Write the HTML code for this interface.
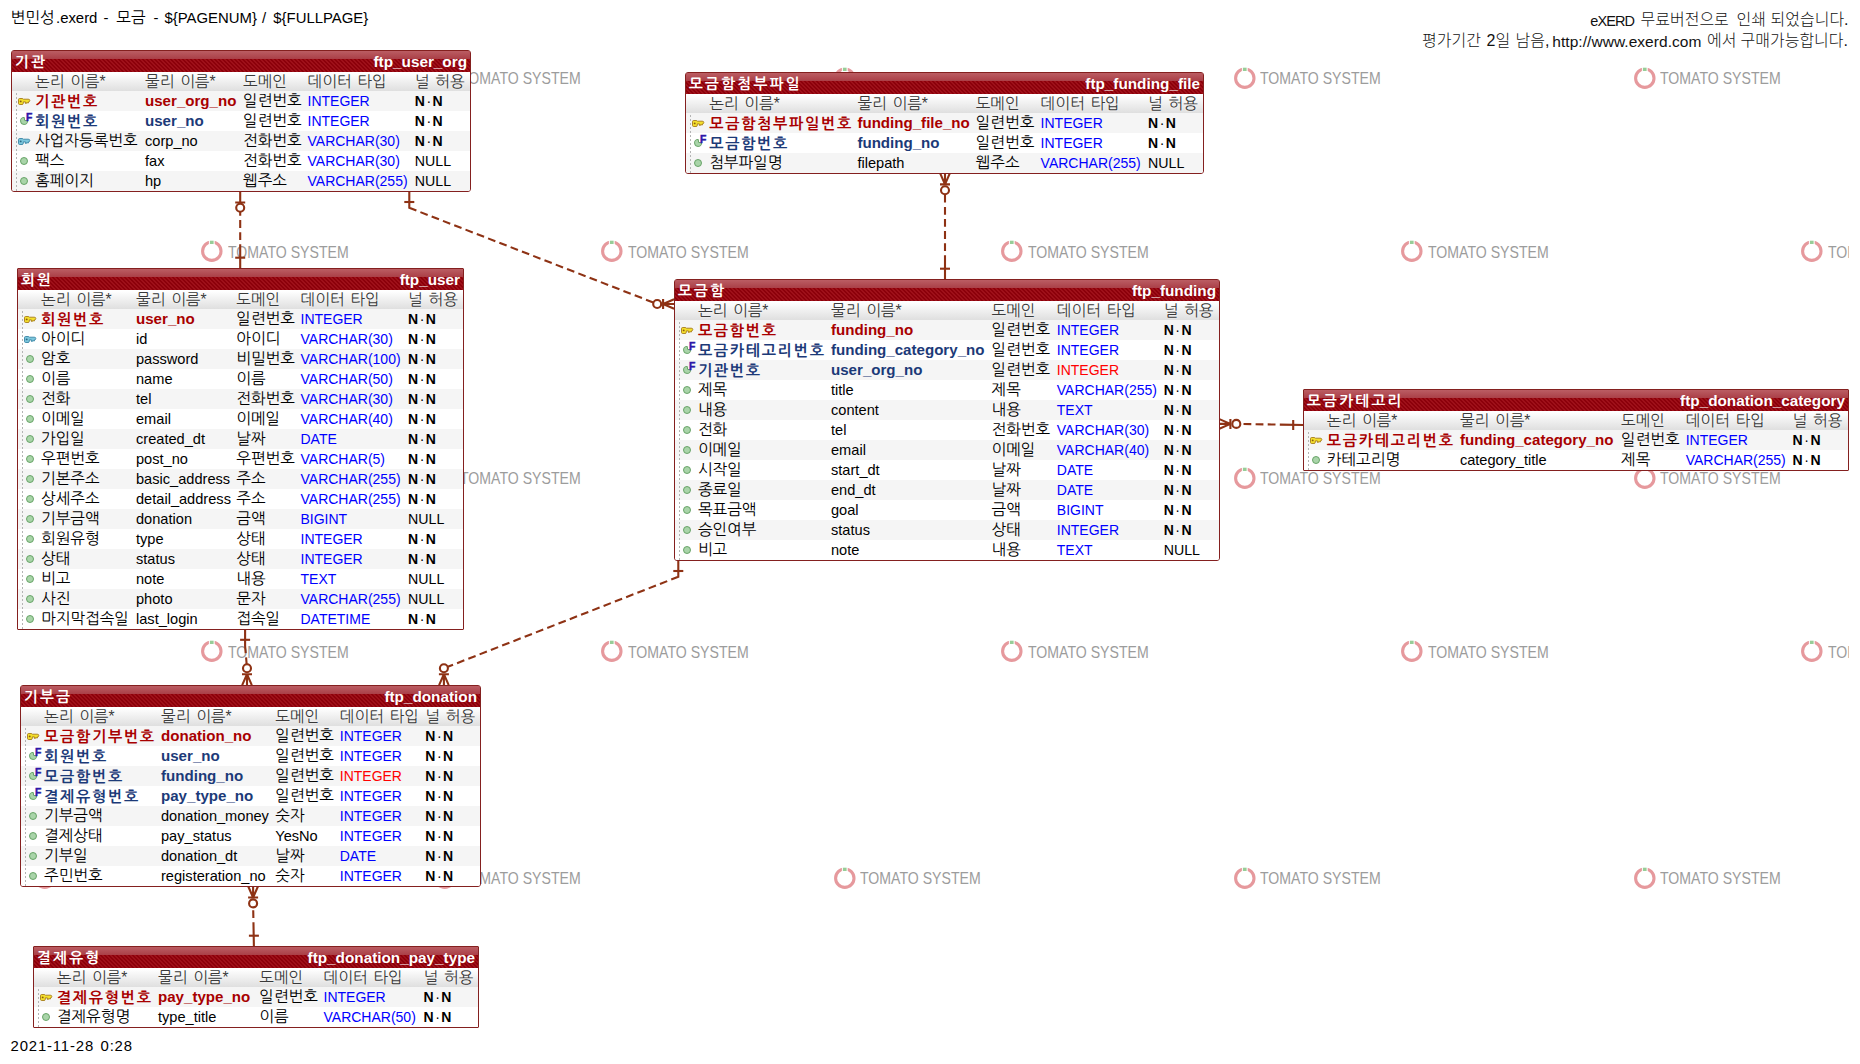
<!DOCTYPE html>
<html lang="ko"><head><meta charset="utf-8"><title>변민성.exerd - 모금</title>
<style>
html,body{margin:0;padding:0;background:#fff}
body{width:1860px;height:1064px;position:relative;overflow:hidden;font-family:"Liberation Sans","NanumGothic",sans-serif;color:#000}
.k{font-family:"Liberation Sans","NanumGothic",sans-serif;font-size:15.600px;word-spacing:1.500px}
.l{font-family:"Liberation Sans","NanumGothic",sans-serif;font-size:14.600px}
.w{position:absolute;white-space:nowrap;line-height:20px}
.nw{line-height:22px;color:#111}
.kn{font-family:"Liberation Sans","Noto Sans CJK KR",sans-serif;font-weight:300;font-size:16px}
.en{font-family:"Liberation Sans",sans-serif;font-size:14.500px;letter-spacing:-.9px;padding-top:1px}
.en.u{letter-spacing:.05px;font-size:15.500px}
.dd{letter-spacing:.85px}
.h.l{font-size:14.900px}
.wl{position:absolute;left:0;top:0;width:1849px;height:1035px;overflow:hidden}
.wm{position:absolute;width:150px;height:24px}
.wm svg{position:absolute;left:0;top:0}
.wb svg{left:-.4px;top:-.6px}
.wm span{position:absolute;left:26px;top:2px;line-height:22px;font-size:16.600px;color:#9c9c9c;white-space:nowrap;transform:scaleX(.85);transform-origin:0 50%}
.t{position:absolute;box-sizing:border-box;border:1px solid #84201f;border-radius:3px;background:#fff;overflow:hidden}
.t.sq{border-radius:1px}
.tt{position:relative;height:21px;background:
 linear-gradient(#bb5d63,#aa3f47) 0 0/100% 8px no-repeat,
 repeating-linear-gradient(45deg,#9e1019 0,#9e1019 1.415px,#8c000a 1.415px,#8c000a 2.830px);color:#fff;font-weight:bold}
.tt .n{position:absolute;left:3px;top:1px;line-height:20px;white-space:nowrap;font-size:14.800px;letter-spacing:2.200px}
.tt .p{position:absolute;right:3px;top:1px;line-height:20px;white-space:nowrap;font-size:15.300px}
.th{position:relative;height:19px;background:linear-gradient(#ffffff 0,#ffffff 1px,#f3f3f3 40%,#dfdfdf 100%);color:#3a3a3a;text-shadow:0 0 2px #fff}
.r{position:relative;height:20px}
.r.o{background:#f5f5f5}
.r.e{background:#fff}
.c{position:absolute;top:0;line-height:20px;white-space:nowrap}
.th .c{line-height:19px}
.pk{color:#a80000;font-weight:bold}
.fk{color:#1c3a78;font-weight:bold}
.dt{color:#0000ff;font-size:14px}
.dt.red{color:#ff0000}
.nn{font-weight:bold;font-size:14px}
.nl{font-size:14.200px}
.ic{position:absolute;line-height:0}
.ic svg{display:block}
.dl{position:absolute;left:4px;top:42px;bottom:0;width:1px;background:repeating-linear-gradient(#b4b4b4 0,#b4b4b4 2px,transparent 2px,transparent 4px)}
.b.l{font-size:15.100px}
.b.k{font-size:15.200px;letter-spacing:1.700px;margin-top:.5px}
</style></head><body>
<div class="wl">
<div class="wm" style="left:34px;top:66px"><svg width="24" height="24" viewBox="0 0 24 24"><circle cx="10.800" cy="12.200" r="9.200" fill="none" stroke="#e6999d" stroke-width="3.100"/><rect x="7.900" y="0" width="5.800" height="6" fill="#fff"/><rect x="8.900" y="1.700" width="3.700" height="3.300" fill="#97cd97"/></svg><span>TOMATO SYSTEM</span></div>
<div class="wm" style="left:434px;top:66px"><svg width="24" height="24" viewBox="0 0 24 24"><circle cx="10.800" cy="12.200" r="9.200" fill="none" stroke="#e6999d" stroke-width="3.100"/><rect x="7.900" y="0" width="5.800" height="6" fill="#fff"/><rect x="8.900" y="1.700" width="3.700" height="3.300" fill="#97cd97"/></svg><span>TOMATO SYSTEM</span></div>
<div class="wm" style="left:834px;top:66px"><svg width="24" height="24" viewBox="0 0 24 24"><circle cx="10.800" cy="12.200" r="9.200" fill="none" stroke="#e6999d" stroke-width="3.100"/><rect x="7.900" y="0" width="5.800" height="6" fill="#fff"/><rect x="8.900" y="1.700" width="3.700" height="3.300" fill="#97cd97"/></svg><span>TOMATO SYSTEM</span></div>
<div class="wm" style="left:1234px;top:66px"><svg width="24" height="24" viewBox="0 0 24 24"><circle cx="10.800" cy="12.200" r="9.200" fill="none" stroke="#e6999d" stroke-width="3.100"/><rect x="7.900" y="0" width="5.800" height="6" fill="#fff"/><rect x="8.900" y="1.700" width="3.700" height="3.300" fill="#97cd97"/></svg><span>TOMATO SYSTEM</span></div>
<div class="wm" style="left:1634px;top:66px"><svg width="24" height="24" viewBox="0 0 24 24"><circle cx="10.800" cy="12.200" r="9.200" fill="none" stroke="#e6999d" stroke-width="3.100"/><rect x="7.900" y="0" width="5.800" height="6" fill="#fff"/><rect x="8.900" y="1.700" width="3.700" height="3.300" fill="#97cd97"/></svg><span>TOMATO SYSTEM</span></div>
<div class="wm" style="left:34px;top:466px"><svg width="24" height="24" viewBox="0 0 24 24"><circle cx="10.800" cy="12.200" r="9.200" fill="none" stroke="#e6999d" stroke-width="3.100"/><rect x="7.900" y="0" width="5.800" height="6" fill="#fff"/><rect x="8.900" y="1.700" width="3.700" height="3.300" fill="#97cd97"/></svg><span>TOMATO SYSTEM</span></div>
<div class="wm" style="left:434px;top:466px"><svg width="24" height="24" viewBox="0 0 24 24"><circle cx="10.800" cy="12.200" r="9.200" fill="none" stroke="#e6999d" stroke-width="3.100"/><rect x="7.900" y="0" width="5.800" height="6" fill="#fff"/><rect x="8.900" y="1.700" width="3.700" height="3.300" fill="#97cd97"/></svg><span>TOMATO SYSTEM</span></div>
<div class="wm" style="left:834px;top:466px"><svg width="24" height="24" viewBox="0 0 24 24"><circle cx="10.800" cy="12.200" r="9.200" fill="none" stroke="#e6999d" stroke-width="3.100"/><rect x="7.900" y="0" width="5.800" height="6" fill="#fff"/><rect x="8.900" y="1.700" width="3.700" height="3.300" fill="#97cd97"/></svg><span>TOMATO SYSTEM</span></div>
<div class="wm" style="left:1234px;top:466px"><svg width="24" height="24" viewBox="0 0 24 24"><circle cx="10.800" cy="12.200" r="9.200" fill="none" stroke="#e6999d" stroke-width="3.100"/><rect x="7.900" y="0" width="5.800" height="6" fill="#fff"/><rect x="8.900" y="1.700" width="3.700" height="3.300" fill="#97cd97"/></svg><span>TOMATO SYSTEM</span></div>
<div class="wm" style="left:1634px;top:466px"><svg width="24" height="24" viewBox="0 0 24 24"><circle cx="10.800" cy="12.200" r="9.200" fill="none" stroke="#e6999d" stroke-width="3.100"/><rect x="7.900" y="0" width="5.800" height="6" fill="#fff"/><rect x="8.900" y="1.700" width="3.700" height="3.300" fill="#97cd97"/></svg><span>TOMATO SYSTEM</span></div>
<div class="wm" style="left:34px;top:866px"><svg width="24" height="24" viewBox="0 0 24 24"><circle cx="10.800" cy="12.200" r="9.200" fill="none" stroke="#e6999d" stroke-width="3.100"/><rect x="7.900" y="0" width="5.800" height="6" fill="#fff"/><rect x="8.900" y="1.700" width="3.700" height="3.300" fill="#97cd97"/></svg><span>TOMATO SYSTEM</span></div>
<div class="wm" style="left:434px;top:866px"><svg width="24" height="24" viewBox="0 0 24 24"><circle cx="10.800" cy="12.200" r="9.200" fill="none" stroke="#e6999d" stroke-width="3.100"/><rect x="7.900" y="0" width="5.800" height="6" fill="#fff"/><rect x="8.900" y="1.700" width="3.700" height="3.300" fill="#97cd97"/></svg><span>TOMATO SYSTEM</span></div>
<div class="wm" style="left:834px;top:866px"><svg width="24" height="24" viewBox="0 0 24 24"><circle cx="10.800" cy="12.200" r="9.200" fill="none" stroke="#e6999d" stroke-width="3.100"/><rect x="7.900" y="0" width="5.800" height="6" fill="#fff"/><rect x="8.900" y="1.700" width="3.700" height="3.300" fill="#97cd97"/></svg><span>TOMATO SYSTEM</span></div>
<div class="wm" style="left:1234px;top:866px"><svg width="24" height="24" viewBox="0 0 24 24"><circle cx="10.800" cy="12.200" r="9.200" fill="none" stroke="#e6999d" stroke-width="3.100"/><rect x="7.900" y="0" width="5.800" height="6" fill="#fff"/><rect x="8.900" y="1.700" width="3.700" height="3.300" fill="#97cd97"/></svg><span>TOMATO SYSTEM</span></div>
<div class="wm" style="left:1634px;top:866px"><svg width="24" height="24" viewBox="0 0 24 24"><circle cx="10.800" cy="12.200" r="9.200" fill="none" stroke="#e6999d" stroke-width="3.100"/><rect x="7.900" y="0" width="5.800" height="6" fill="#fff"/><rect x="8.900" y="1.700" width="3.700" height="3.300" fill="#97cd97"/></svg><span>TOMATO SYSTEM</span></div>
<div class="wm wb" style="left:201.6px;top:239.5px"><svg width="24" height="24" viewBox="0 0 24 24"><circle cx="10.800" cy="12.200" r="9.200" fill="none" stroke="#e6999d" stroke-width="3.100"/><rect x="7.900" y="0" width="5.800" height="6" fill="#fff"/><rect x="8.900" y="1.700" width="3.700" height="3.300" fill="#97cd97"/></svg><span>TOMATO SYSTEM</span></div>
<div class="wm wb" style="left:601.6px;top:239.5px"><svg width="24" height="24" viewBox="0 0 24 24"><circle cx="10.800" cy="12.200" r="9.200" fill="none" stroke="#e6999d" stroke-width="3.100"/><rect x="7.900" y="0" width="5.800" height="6" fill="#fff"/><rect x="8.900" y="1.700" width="3.700" height="3.300" fill="#97cd97"/></svg><span>TOMATO SYSTEM</span></div>
<div class="wm wb" style="left:1001.6px;top:239.5px"><svg width="24" height="24" viewBox="0 0 24 24"><circle cx="10.800" cy="12.200" r="9.200" fill="none" stroke="#e6999d" stroke-width="3.100"/><rect x="7.900" y="0" width="5.800" height="6" fill="#fff"/><rect x="8.900" y="1.700" width="3.700" height="3.300" fill="#97cd97"/></svg><span>TOMATO SYSTEM</span></div>
<div class="wm wb" style="left:1401.6px;top:239.5px"><svg width="24" height="24" viewBox="0 0 24 24"><circle cx="10.800" cy="12.200" r="9.200" fill="none" stroke="#e6999d" stroke-width="3.100"/><rect x="7.900" y="0" width="5.800" height="6" fill="#fff"/><rect x="8.900" y="1.700" width="3.700" height="3.300" fill="#97cd97"/></svg><span>TOMATO SYSTEM</span></div>
<div class="wm wb" style="left:1801.6px;top:239.5px"><svg width="24" height="24" viewBox="0 0 24 24"><circle cx="10.800" cy="12.200" r="9.200" fill="none" stroke="#e6999d" stroke-width="3.100"/><rect x="7.900" y="0" width="5.800" height="6" fill="#fff"/><rect x="8.900" y="1.700" width="3.700" height="3.300" fill="#97cd97"/></svg><span>TOMATO SYSTEM</span></div>
<div class="wm wb" style="left:201.6px;top:639.5px"><svg width="24" height="24" viewBox="0 0 24 24"><circle cx="10.800" cy="12.200" r="9.200" fill="none" stroke="#e6999d" stroke-width="3.100"/><rect x="7.900" y="0" width="5.800" height="6" fill="#fff"/><rect x="8.900" y="1.700" width="3.700" height="3.300" fill="#97cd97"/></svg><span>TOMATO SYSTEM</span></div>
<div class="wm wb" style="left:601.6px;top:639.5px"><svg width="24" height="24" viewBox="0 0 24 24"><circle cx="10.800" cy="12.200" r="9.200" fill="none" stroke="#e6999d" stroke-width="3.100"/><rect x="7.900" y="0" width="5.800" height="6" fill="#fff"/><rect x="8.900" y="1.700" width="3.700" height="3.300" fill="#97cd97"/></svg><span>TOMATO SYSTEM</span></div>
<div class="wm wb" style="left:1001.6px;top:639.5px"><svg width="24" height="24" viewBox="0 0 24 24"><circle cx="10.800" cy="12.200" r="9.200" fill="none" stroke="#e6999d" stroke-width="3.100"/><rect x="7.900" y="0" width="5.800" height="6" fill="#fff"/><rect x="8.900" y="1.700" width="3.700" height="3.300" fill="#97cd97"/></svg><span>TOMATO SYSTEM</span></div>
<div class="wm wb" style="left:1401.6px;top:639.5px"><svg width="24" height="24" viewBox="0 0 24 24"><circle cx="10.800" cy="12.200" r="9.200" fill="none" stroke="#e6999d" stroke-width="3.100"/><rect x="7.900" y="0" width="5.800" height="6" fill="#fff"/><rect x="8.900" y="1.700" width="3.700" height="3.300" fill="#97cd97"/></svg><span>TOMATO SYSTEM</span></div>
<div class="wm wb" style="left:1801.6px;top:639.5px"><svg width="24" height="24" viewBox="0 0 24 24"><circle cx="10.800" cy="12.200" r="9.200" fill="none" stroke="#e6999d" stroke-width="3.100"/><rect x="7.900" y="0" width="5.800" height="6" fill="#fff"/><rect x="8.900" y="1.700" width="3.700" height="3.300" fill="#97cd97"/></svg><span>TOMATO SYSTEM</span></div>
</div>
<div class="hd"><span class="w h k" style="left:10.5px;top:8px">변민성</span><span class="w h l" style="left:56px;top:8px">.exerd</span><span class="w h l" style="left:103.5px;top:8px">-</span><span class="w h k" style="left:116.3px;top:8px">모금</span><span class="w h l" style="left:153.5px;top:8px">-</span><span class="w h l" style="left:164.5px;top:8px">${PAGENUM}</span><span class="w h l" style="left:262px;top:8px">/</span><span class="w h l" style="left:273.3px;top:8px">${FULLPAGE}</span>
</div><div class="nt"><span class="w nw en" style="left:1590.3px;top:9px">eXERD</span><span class="w nw kn" style="left:1640.5px;top:9px">무료버전으로</span><span class="w nw kn" style="left:1736.5px;top:9px">인쇄</span><span class="w nw kn" style="left:1770.5px;top:9px">되었습니다.</span>
<span class="w nw kn" style="left:1422px;top:30px">평가기간</span><span class="w nw kn" style="left:1486.5px;top:30px">2일</span><span class="w nw kn" style="left:1515.5px;top:30px">남음,</span><span class="w nw en u" style="left:1552.3px;top:30px">http://www.exerd.com</span><span class="w nw kn" style="left:1707px;top:30px">에서</span><span class="w nw kn" style="left:1740.5px;top:30px">구매가능합니다.</span>
</div><div class="ft"><span class="w h l dd" style="left:10.5px;top:1035.5px">2021-11-28</span><span class="w h l dd" style="left:100.5px;top:1035.5px">0:28</span>
</div>
<svg style="position:absolute;left:0;top:0" width="1860" height="1064" viewBox="0 0 1860 1064" fill="none" stroke="#8e3214" stroke-width="2.1" stroke-linecap="butt">
<path d="M240.2 268.5L240.2 207.7" stroke-dasharray="24.2 4.3 7.8 4.3 7.8 4.3 7.8 4.3 7.8 4.3 7.8 4.3 7.8 4.3 7.8 4.3 7.8 4.3 7.8 4.3 7.8 4.3 7.8 4.3 7.8 4.3 7.8 4.3 7.8 4.3 7.8 4.3 7.8 4.3 7.8 4.3 7.8 4.3 7.8 4.3 7.8 4.3 7.8 4.3 7.8 4.3 7.8 4.3 7.8 4.3"/><path d="M235.2 257.7L245.2 257.7"/><path d="M240.2 191.5L240.2 202.5M245.2 202.5L235.2 202.5"/><circle cx="240.2" cy="207.7" r="4" fill="#fff"/>
<path d="M245.1 629L245.1 646L247 668.3" stroke-dasharray="24.2 4.3 7.8 4.3 7.8 4.3 7.8 4.3 7.8 4.3 7.8 4.3 7.8 4.3 7.8 4.3 7.8 4.3 7.8 4.3 7.8 4.3 7.8 4.3 7.8 4.3 7.8 4.3 7.8 4.3 7.8 4.3 7.8 4.3 7.8 4.3 7.8 4.3 7.8 4.3 7.8 4.3 7.8 4.3 7.8 4.3 7.8 4.3 7.8 4.3"/><path d="M250.1 639.8L240.1 639.8"/><path d="M242.2 685.2L247 674.2M247 685.2L247 674.2M251.8 685.2L247 674.2M242 674.2L252 674.2"/><circle cx="247" cy="668.3" r="4" fill="#fff"/>
<path d="M253.9 946.5L253.1 903.4" stroke-dasharray="24.2 4.3 7.8 4.3 7.8 4.3 7.8 4.3 7.8 4.3 7.8 4.3 7.8 4.3 7.8 4.3 7.8 4.3 7.8 4.3 7.8 4.3 7.8 4.3 7.8 4.3 7.8 4.3 7.8 4.3 7.8 4.3 7.8 4.3 7.8 4.3 7.8 4.3 7.8 4.3 7.8 4.3 7.8 4.3 7.8 4.3 7.8 4.3 7.8 4.3"/><path d="M248.9 935.7L258.9 935.7"/><path d="M257.9 886.5L253.1 897.5M253.1 886.5L253.1 897.5M248.3 886.5L253.1 897.5M258.1 897.5L248.1 897.5"/><circle cx="253.1" cy="903.4" r="4" fill="#fff"/>
<path d="M945 279.5L945 190.3" stroke-dasharray="24.2 4.3 7.8 4.3 7.8 4.3 7.8 4.3 7.8 4.3 7.8 4.3 7.8 4.3 7.8 4.3 7.8 4.3 7.8 4.3 7.8 4.3 7.8 4.3 7.8 4.3 7.8 4.3 7.8 4.3 7.8 4.3 7.8 4.3 7.8 4.3 7.8 4.3 7.8 4.3 7.8 4.3 7.8 4.3 7.8 4.3 7.8 4.3 7.8 4.3"/><path d="M940 268.7L950 268.7"/><path d="M949.8 173.4L945 184.4M945 173.4L945 184.4M940.2 173.4L945 184.4M950 184.4L940 184.4"/><circle cx="945" cy="190.3" r="4" fill="#fff"/>
<path d="M1304 425L1236.3 423.9" stroke-dasharray="24.2 4.3 7.8 4.3 7.8 4.3 7.8 4.3 7.8 4.3 7.8 4.3 7.8 4.3 7.8 4.3 7.8 4.3 7.8 4.3 7.8 4.3 7.8 4.3 7.8 4.3 7.8 4.3 7.8 4.3 7.8 4.3 7.8 4.3 7.8 4.3 7.8 4.3 7.8 4.3 7.8 4.3 7.8 4.3 7.8 4.3 7.8 4.3 7.8 4.3"/><path d="M1293.2 430L1293.2 420"/><path d="M1219.4 419.1L1230.4 423.9M1219.4 423.9L1230.4 423.9M1219.4 428.7L1230.4 423.9M1230.4 418.9L1230.4 428.9"/><circle cx="1236.3" cy="423.9" r="4" fill="#fff"/>
<path d="M409.3 191.2L409.3 207.8L657.2 304" stroke-dasharray="24.2 4.3 7.8 4.3 7.8 4.3 7.8 4.3 7.8 4.3 7.8 4.3 7.8 4.3 7.8 4.3 7.8 4.3 7.8 4.3 7.8 4.3 7.8 4.3 7.8 4.3 7.8 4.3 7.8 4.3 7.8 4.3 7.8 4.3 7.8 4.3 7.8 4.3 7.8 4.3 7.8 4.3 7.8 4.3 7.8 4.3 7.8 4.3 7.8 4.3"/><path d="M414.3 202L404.3 202"/><path d="M674.1 308.8L663.1 304M674.1 304L663.1 304M674.1 299.2L663.1 304M663.1 309L663.1 299"/><circle cx="657.2" cy="304" r="4" fill="#fff"/>
<path d="M678.3 560.2L678.3 576.8L443.9 668.3" stroke-dasharray="24.2 4.3 7.8 4.3 7.8 4.3 7.8 4.3 7.8 4.3 7.8 4.3 7.8 4.3 7.8 4.3 7.8 4.3 7.8 4.3 7.8 4.3 7.8 4.3 7.8 4.3 7.8 4.3 7.8 4.3 7.8 4.3 7.8 4.3 7.8 4.3 7.8 4.3 7.8 4.3 7.8 4.3 7.8 4.3 7.8 4.3 7.8 4.3 7.8 4.3"/><path d="M683.3 571L673.3 571"/><path d="M439.1 685.2L443.9 674.2M443.9 685.2L443.9 674.2M448.7 685.2L443.9 674.2M438.9 674.2L448.9 674.2"/><circle cx="443.9" cy="668.3" r="4" fill="#fff"/>
</svg>
<div class="t" style="left:11px;top:50px;width:460px;height:142px">
<div class="tt"><span class="n k">기관</span><span class="p l">ftp_user_org</span></div>
<div class="th"><span class="c k" style="left:23.00px">논리 이름*</span><span class="c k" style="left:133.00px">물리 이름*</span><span class="c k" style="left:231.00px">도메인</span><span class="c k" style="left:295.50px">데이터 타입</span><span class="c k" style="left:402.75px">널 허용</span></div>
<div class="r o"><span class="ic" style="left:5.7px;top:6.5px"><svg width="13" height="7" viewBox="0 0 13 7"><path d="M1.700 .5H4Q5 .5 5.300 1.200H10.200Q11.800 1.200 11.800 2.500 11.800 3.900 10.400 3.900V5H9.400L8.900 4.400 8.400 5.400H7.400V3.900H5.300V5.300Q5.300 6.500 4 6.500H1.700Q.5 6.500 .5 5.300V1.700Q.5 .5 1.700 .5Z" fill="#f3df2c" stroke="#a67c1a" stroke-width=".9"/><circle cx="2.700" cy="3.400" r=".95" fill="#8a5a10"/></svg></span><span class="c k pk b" style="left:23.00px">기관번호</span><span class="c l pk b" style="left:133.00px">user_org_no</span><span class="c k" style="left:231.00px">일련번호</span><span class="c l dt" style="left:295.50px">INTEGER</span><span class="c l nn" style="left:402.75px">N<span style="font-weight:normal;padding:0 1.500px">·</span>N</span></div>
<div class="r e"><span class="ic" style="left:7px;top:0px"><svg width="14" height="14" viewBox="0 0 14 14"><path d="M5.300 6.500A3.500 3.500 0 1 0 8.500 9.700L5.600 9.400Z" fill="#a9d4a9" stroke="#5d9d5d" stroke-width=".9"/><text x="7" y="10" font-family="Liberation Sans, sans-serif" font-weight="bold" font-size="10.400" fill="#2c18a8" stroke="#2c18a8" stroke-width=".45">F</text></svg></span><span class="c k fk b" style="left:23.00px">회원번호</span><span class="c l fk b" style="left:133.00px">user_no</span><span class="c k" style="left:231.00px">일련번호</span><span class="c l dt" style="left:295.50px">INTEGER</span><span class="c l nn" style="left:402.75px">N<span style="font-weight:normal;padding:0 1.500px">·</span>N</span></div>
<div class="r o"><span class="ic" style="left:5.7px;top:6.5px"><svg width="13" height="7" viewBox="0 0 13 7"><path d="M1.700 .5H4Q5 .5 5.300 1.200H10.200Q11.800 1.200 11.800 2.500 11.800 3.900 10.400 3.900V5H9.400L8.900 4.400 8.400 5.400H7.400V3.900H5.300V5.300Q5.300 6.500 4 6.500H1.700Q.5 6.500 .5 5.300V1.700Q.5 .5 1.700 .5Z" fill="#7cc6dc" stroke="#3a86a6" stroke-width=".9"/><circle cx="2.700" cy="3.400" r=".95" fill="#2a6a86"/></svg></span><span class="c k" style="left:23.00px">사업자등록번호</span><span class="c l" style="left:133.00px">corp_no</span><span class="c k" style="left:231.00px">전화번호</span><span class="c l dt" style="left:295.50px">VARCHAR(30)</span><span class="c l nn" style="left:402.75px">N<span style="font-weight:normal;padding:0 1.500px">·</span>N</span></div>
<div class="r e"><span class="ic" style="left:7px;top:5px"><svg width="10" height="10" viewBox="0 0 10 10"><circle cx="5" cy="5" r="3.500" fill="#a9d4a9" stroke="#5d9d5d" stroke-width=".9"/></svg></span><span class="c k" style="left:23.00px">팩스</span><span class="c l" style="left:133.00px">fax</span><span class="c k" style="left:231.00px">전화번호</span><span class="c l dt" style="left:295.50px">VARCHAR(30)</span><span class="c l nl" style="left:402.75px">NULL</span></div>
<div class="r o"><span class="ic" style="left:7px;top:5px"><svg width="10" height="10" viewBox="0 0 10 10"><circle cx="5" cy="5" r="3.500" fill="#a9d4a9" stroke="#5d9d5d" stroke-width=".9"/></svg></span><span class="c k" style="left:23.00px">홈페이지</span><span class="c l" style="left:133.00px">hp</span><span class="c k" style="left:231.00px">웹주소</span><span class="c l dt" style="left:295.50px">VARCHAR(255)</span><span class="c l nl" style="left:402.75px">NULL</span></div>
<div class="dl"></div></div>
<div class="t sq" style="left:17px;top:268px;width:447px;height:362px">
<div class="tt"><span class="n k">회원</span><span class="p l">ftp_user</span></div>
<div class="th"><span class="c k" style="left:23.00px">논리 이름*</span><span class="c k" style="left:118.00px">물리 이름*</span><span class="c k" style="left:218.25px">도메인</span><span class="c k" style="left:282.50px">데이터 타입</span><span class="c k" style="left:390.00px">널 허용</span></div>
<div class="r o"><span class="ic" style="left:5.7px;top:6.5px"><svg width="13" height="7" viewBox="0 0 13 7"><path d="M1.700 .5H4Q5 .5 5.300 1.200H10.200Q11.800 1.200 11.800 2.500 11.800 3.900 10.400 3.900V5H9.400L8.900 4.400 8.400 5.400H7.400V3.900H5.300V5.300Q5.300 6.500 4 6.500H1.700Q.5 6.500 .5 5.300V1.700Q.5 .5 1.700 .5Z" fill="#f3df2c" stroke="#a67c1a" stroke-width=".9"/><circle cx="2.700" cy="3.400" r=".95" fill="#8a5a10"/></svg></span><span class="c k pk b" style="left:23.00px">회원번호</span><span class="c l pk b" style="left:118.00px">user_no</span><span class="c k" style="left:218.25px">일련번호</span><span class="c l dt" style="left:282.50px">INTEGER</span><span class="c l nn" style="left:390.00px">N<span style="font-weight:normal;padding:0 1.500px">·</span>N</span></div>
<div class="r e"><span class="ic" style="left:5.7px;top:6.5px"><svg width="13" height="7" viewBox="0 0 13 7"><path d="M1.700 .5H4Q5 .5 5.300 1.200H10.200Q11.800 1.200 11.800 2.500 11.800 3.900 10.400 3.900V5H9.400L8.900 4.400 8.400 5.400H7.400V3.900H5.300V5.300Q5.300 6.500 4 6.500H1.700Q.5 6.500 .5 5.300V1.700Q.5 .5 1.700 .5Z" fill="#7cc6dc" stroke="#3a86a6" stroke-width=".9"/><circle cx="2.700" cy="3.400" r=".95" fill="#2a6a86"/></svg></span><span class="c k" style="left:23.00px">아이디</span><span class="c l" style="left:118.00px">id</span><span class="c k" style="left:218.25px">아이디</span><span class="c l dt" style="left:282.50px">VARCHAR(30)</span><span class="c l nn" style="left:390.00px">N<span style="font-weight:normal;padding:0 1.500px">·</span>N</span></div>
<div class="r o"><span class="ic" style="left:7px;top:5px"><svg width="10" height="10" viewBox="0 0 10 10"><circle cx="5" cy="5" r="3.500" fill="#a9d4a9" stroke="#5d9d5d" stroke-width=".9"/></svg></span><span class="c k" style="left:23.00px">암호</span><span class="c l" style="left:118.00px">password</span><span class="c k" style="left:218.25px">비밀번호</span><span class="c l dt" style="left:282.50px">VARCHAR(100)</span><span class="c l nn" style="left:390.00px">N<span style="font-weight:normal;padding:0 1.500px">·</span>N</span></div>
<div class="r e"><span class="ic" style="left:7px;top:5px"><svg width="10" height="10" viewBox="0 0 10 10"><circle cx="5" cy="5" r="3.500" fill="#a9d4a9" stroke="#5d9d5d" stroke-width=".9"/></svg></span><span class="c k" style="left:23.00px">이름</span><span class="c l" style="left:118.00px">name</span><span class="c k" style="left:218.25px">이름</span><span class="c l dt" style="left:282.50px">VARCHAR(50)</span><span class="c l nn" style="left:390.00px">N<span style="font-weight:normal;padding:0 1.500px">·</span>N</span></div>
<div class="r o"><span class="ic" style="left:7px;top:5px"><svg width="10" height="10" viewBox="0 0 10 10"><circle cx="5" cy="5" r="3.500" fill="#a9d4a9" stroke="#5d9d5d" stroke-width=".9"/></svg></span><span class="c k" style="left:23.00px">전화</span><span class="c l" style="left:118.00px">tel</span><span class="c k" style="left:218.25px">전화번호</span><span class="c l dt" style="left:282.50px">VARCHAR(30)</span><span class="c l nn" style="left:390.00px">N<span style="font-weight:normal;padding:0 1.500px">·</span>N</span></div>
<div class="r e"><span class="ic" style="left:7px;top:5px"><svg width="10" height="10" viewBox="0 0 10 10"><circle cx="5" cy="5" r="3.500" fill="#a9d4a9" stroke="#5d9d5d" stroke-width=".9"/></svg></span><span class="c k" style="left:23.00px">이메일</span><span class="c l" style="left:118.00px">email</span><span class="c k" style="left:218.25px">이메일</span><span class="c l dt" style="left:282.50px">VARCHAR(40)</span><span class="c l nn" style="left:390.00px">N<span style="font-weight:normal;padding:0 1.500px">·</span>N</span></div>
<div class="r o"><span class="ic" style="left:7px;top:5px"><svg width="10" height="10" viewBox="0 0 10 10"><circle cx="5" cy="5" r="3.500" fill="#a9d4a9" stroke="#5d9d5d" stroke-width=".9"/></svg></span><span class="c k" style="left:23.00px">가입일</span><span class="c l" style="left:118.00px">created_dt</span><span class="c k" style="left:218.25px">날짜</span><span class="c l dt" style="left:282.50px">DATE</span><span class="c l nn" style="left:390.00px">N<span style="font-weight:normal;padding:0 1.500px">·</span>N</span></div>
<div class="r e"><span class="ic" style="left:7px;top:5px"><svg width="10" height="10" viewBox="0 0 10 10"><circle cx="5" cy="5" r="3.500" fill="#a9d4a9" stroke="#5d9d5d" stroke-width=".9"/></svg></span><span class="c k" style="left:23.00px">우편번호</span><span class="c l" style="left:118.00px">post_no</span><span class="c k" style="left:218.25px">우편번호</span><span class="c l dt" style="left:282.50px">VARCHAR(5)</span><span class="c l nn" style="left:390.00px">N<span style="font-weight:normal;padding:0 1.500px">·</span>N</span></div>
<div class="r o"><span class="ic" style="left:7px;top:5px"><svg width="10" height="10" viewBox="0 0 10 10"><circle cx="5" cy="5" r="3.500" fill="#a9d4a9" stroke="#5d9d5d" stroke-width=".9"/></svg></span><span class="c k" style="left:23.00px">기본주소</span><span class="c l" style="left:118.00px">basic_address</span><span class="c k" style="left:218.25px">주소</span><span class="c l dt" style="left:282.50px">VARCHAR(255)</span><span class="c l nn" style="left:390.00px">N<span style="font-weight:normal;padding:0 1.500px">·</span>N</span></div>
<div class="r e"><span class="ic" style="left:7px;top:5px"><svg width="10" height="10" viewBox="0 0 10 10"><circle cx="5" cy="5" r="3.500" fill="#a9d4a9" stroke="#5d9d5d" stroke-width=".9"/></svg></span><span class="c k" style="left:23.00px">상세주소</span><span class="c l" style="left:118.00px">detail_address</span><span class="c k" style="left:218.25px">주소</span><span class="c l dt" style="left:282.50px">VARCHAR(255)</span><span class="c l nn" style="left:390.00px">N<span style="font-weight:normal;padding:0 1.500px">·</span>N</span></div>
<div class="r o"><span class="ic" style="left:7px;top:5px"><svg width="10" height="10" viewBox="0 0 10 10"><circle cx="5" cy="5" r="3.500" fill="#a9d4a9" stroke="#5d9d5d" stroke-width=".9"/></svg></span><span class="c k" style="left:23.00px">기부금액</span><span class="c l" style="left:118.00px">donation</span><span class="c k" style="left:218.25px">금액</span><span class="c l dt" style="left:282.50px">BIGINT</span><span class="c l nl" style="left:390.00px">NULL</span></div>
<div class="r e"><span class="ic" style="left:7px;top:5px"><svg width="10" height="10" viewBox="0 0 10 10"><circle cx="5" cy="5" r="3.500" fill="#a9d4a9" stroke="#5d9d5d" stroke-width=".9"/></svg></span><span class="c k" style="left:23.00px">회원유형</span><span class="c l" style="left:118.00px">type</span><span class="c k" style="left:218.25px">상태</span><span class="c l dt" style="left:282.50px">INTEGER</span><span class="c l nn" style="left:390.00px">N<span style="font-weight:normal;padding:0 1.500px">·</span>N</span></div>
<div class="r o"><span class="ic" style="left:7px;top:5px"><svg width="10" height="10" viewBox="0 0 10 10"><circle cx="5" cy="5" r="3.500" fill="#a9d4a9" stroke="#5d9d5d" stroke-width=".9"/></svg></span><span class="c k" style="left:23.00px">상태</span><span class="c l" style="left:118.00px">status</span><span class="c k" style="left:218.25px">상태</span><span class="c l dt" style="left:282.50px">INTEGER</span><span class="c l nn" style="left:390.00px">N<span style="font-weight:normal;padding:0 1.500px">·</span>N</span></div>
<div class="r e"><span class="ic" style="left:7px;top:5px"><svg width="10" height="10" viewBox="0 0 10 10"><circle cx="5" cy="5" r="3.500" fill="#a9d4a9" stroke="#5d9d5d" stroke-width=".9"/></svg></span><span class="c k" style="left:23.00px">비고</span><span class="c l" style="left:118.00px">note</span><span class="c k" style="left:218.25px">내용</span><span class="c l dt" style="left:282.50px">TEXT</span><span class="c l nl" style="left:390.00px">NULL</span></div>
<div class="r o"><span class="ic" style="left:7px;top:5px"><svg width="10" height="10" viewBox="0 0 10 10"><circle cx="5" cy="5" r="3.500" fill="#a9d4a9" stroke="#5d9d5d" stroke-width=".9"/></svg></span><span class="c k" style="left:23.00px">사진</span><span class="c l" style="left:118.00px">photo</span><span class="c k" style="left:218.25px">문자</span><span class="c l dt" style="left:282.50px">VARCHAR(255)</span><span class="c l nl" style="left:390.00px">NULL</span></div>
<div class="r e"><span class="ic" style="left:7px;top:5px"><svg width="10" height="10" viewBox="0 0 10 10"><circle cx="5" cy="5" r="3.500" fill="#a9d4a9" stroke="#5d9d5d" stroke-width=".9"/></svg></span><span class="c k" style="left:23.00px">마지막접속일</span><span class="c l" style="left:118.00px">last_login</span><span class="c k" style="left:218.25px">접속일</span><span class="c l dt" style="left:282.50px">DATETIME</span><span class="c l nn" style="left:390.00px">N<span style="font-weight:normal;padding:0 1.500px">·</span>N</span></div>
<div class="dl"></div></div>
<div class="t" style="left:20px;top:685px;width:461px;height:202px">
<div class="tt"><span class="n k">기부금</span><span class="p l">ftp_donation</span></div>
<div class="th"><span class="c k" style="left:23.00px">논리 이름*</span><span class="c k" style="left:140.00px">물리 이름*</span><span class="c k" style="left:254.25px">도메인</span><span class="c k" style="left:318.75px">데이터 타입</span><span class="c k" style="left:404.25px">널 허용</span></div>
<div class="r o"><span class="ic" style="left:5.7px;top:6.5px"><svg width="13" height="7" viewBox="0 0 13 7"><path d="M1.700 .5H4Q5 .5 5.300 1.200H10.200Q11.800 1.200 11.800 2.500 11.800 3.900 10.400 3.900V5H9.400L8.900 4.400 8.400 5.400H7.400V3.900H5.300V5.300Q5.300 6.500 4 6.500H1.700Q.5 6.500 .5 5.300V1.700Q.5 .5 1.700 .5Z" fill="#f3df2c" stroke="#a67c1a" stroke-width=".9"/><circle cx="2.700" cy="3.400" r=".95" fill="#8a5a10"/></svg></span><span class="c k pk b" style="left:23.00px">모금함기부번호</span><span class="c l pk b" style="left:140.00px">donation_no</span><span class="c k" style="left:254.25px">일련번호</span><span class="c l dt" style="left:318.75px">INTEGER</span><span class="c l nn" style="left:404.25px">N<span style="font-weight:normal;padding:0 1.500px">·</span>N</span></div>
<div class="r e"><span class="ic" style="left:7px;top:0px"><svg width="14" height="14" viewBox="0 0 14 14"><path d="M5.300 6.500A3.500 3.500 0 1 0 8.500 9.700L5.600 9.400Z" fill="#a9d4a9" stroke="#5d9d5d" stroke-width=".9"/><text x="7" y="10" font-family="Liberation Sans, sans-serif" font-weight="bold" font-size="10.400" fill="#2c18a8" stroke="#2c18a8" stroke-width=".45">F</text></svg></span><span class="c k fk b" style="left:23.00px">회원번호</span><span class="c l fk b" style="left:140.00px">user_no</span><span class="c k" style="left:254.25px">일련번호</span><span class="c l dt" style="left:318.75px">INTEGER</span><span class="c l nn" style="left:404.25px">N<span style="font-weight:normal;padding:0 1.500px">·</span>N</span></div>
<div class="r o"><span class="ic" style="left:7px;top:0px"><svg width="14" height="14" viewBox="0 0 14 14"><path d="M5.300 6.500A3.500 3.500 0 1 0 8.500 9.700L5.600 9.400Z" fill="#a9d4a9" stroke="#5d9d5d" stroke-width=".9"/><text x="7" y="10" font-family="Liberation Sans, sans-serif" font-weight="bold" font-size="10.400" fill="#2c18a8" stroke="#2c18a8" stroke-width=".45">F</text></svg></span><span class="c k fk b" style="left:23.00px">모금함번호</span><span class="c l fk b" style="left:140.00px">funding_no</span><span class="c k" style="left:254.25px">일련번호</span><span class="c l dt red" style="left:318.75px">INTEGER</span><span class="c l nn" style="left:404.25px">N<span style="font-weight:normal;padding:0 1.500px">·</span>N</span></div>
<div class="r e"><span class="ic" style="left:7px;top:0px"><svg width="14" height="14" viewBox="0 0 14 14"><path d="M5.300 6.500A3.500 3.500 0 1 0 8.500 9.700L5.600 9.400Z" fill="#a9d4a9" stroke="#5d9d5d" stroke-width=".9"/><text x="7" y="10" font-family="Liberation Sans, sans-serif" font-weight="bold" font-size="10.400" fill="#2c18a8" stroke="#2c18a8" stroke-width=".45">F</text></svg></span><span class="c k fk b" style="left:23.00px">결제유형번호</span><span class="c l fk b" style="left:140.00px">pay_type_no</span><span class="c k" style="left:254.25px">일련번호</span><span class="c l dt" style="left:318.75px">INTEGER</span><span class="c l nn" style="left:404.25px">N<span style="font-weight:normal;padding:0 1.500px">·</span>N</span></div>
<div class="r o"><span class="ic" style="left:7px;top:5px"><svg width="10" height="10" viewBox="0 0 10 10"><circle cx="5" cy="5" r="3.500" fill="#a9d4a9" stroke="#5d9d5d" stroke-width=".9"/></svg></span><span class="c k" style="left:23.00px">기부금액</span><span class="c l" style="left:140.00px">donation_money</span><span class="c k" style="left:254.25px">숫자</span><span class="c l dt" style="left:318.75px">INTEGER</span><span class="c l nn" style="left:404.25px">N<span style="font-weight:normal;padding:0 1.500px">·</span>N</span></div>
<div class="r e"><span class="ic" style="left:7px;top:5px"><svg width="10" height="10" viewBox="0 0 10 10"><circle cx="5" cy="5" r="3.500" fill="#a9d4a9" stroke="#5d9d5d" stroke-width=".9"/></svg></span><span class="c k" style="left:23.00px">결제상태</span><span class="c l" style="left:140.00px">pay_status</span><span class="c l" style="left:254.25px">YesNo</span><span class="c l dt" style="left:318.75px">INTEGER</span><span class="c l nn" style="left:404.25px">N<span style="font-weight:normal;padding:0 1.500px">·</span>N</span></div>
<div class="r o"><span class="ic" style="left:7px;top:5px"><svg width="10" height="10" viewBox="0 0 10 10"><circle cx="5" cy="5" r="3.500" fill="#a9d4a9" stroke="#5d9d5d" stroke-width=".9"/></svg></span><span class="c k" style="left:23.00px">기부일</span><span class="c l" style="left:140.00px">donation_dt</span><span class="c k" style="left:254.25px">날짜</span><span class="c l dt" style="left:318.75px">DATE</span><span class="c l nn" style="left:404.25px">N<span style="font-weight:normal;padding:0 1.500px">·</span>N</span></div>
<div class="r e"><span class="ic" style="left:7px;top:5px"><svg width="10" height="10" viewBox="0 0 10 10"><circle cx="5" cy="5" r="3.500" fill="#a9d4a9" stroke="#5d9d5d" stroke-width=".9"/></svg></span><span class="c k" style="left:23.00px">주민번호</span><span class="c l" style="left:140.00px">registeration_no</span><span class="c k" style="left:254.25px">숫자</span><span class="c l dt" style="left:318.75px">INTEGER</span><span class="c l nn" style="left:404.25px">N<span style="font-weight:normal;padding:0 1.500px">·</span>N</span></div>
<div class="dl"></div></div>
<div class="t sq" style="left:33px;top:946px;width:446px;height:82px">
<div class="tt"><span class="n k">결제유형</span><span class="p l">ftp_donation_pay_type</span></div>
<div class="th"><span class="c k" style="left:22.75px">논리 이름*</span><span class="c k" style="left:124.00px">물리 이름*</span><span class="c k" style="left:225.25px">도메인</span><span class="c k" style="left:289.50px">데이터 타입</span><span class="c k" style="left:389.50px">널 허용</span></div>
<div class="r o"><span class="ic" style="left:5.7px;top:6.5px"><svg width="13" height="7" viewBox="0 0 13 7"><path d="M1.700 .5H4Q5 .5 5.300 1.200H10.200Q11.800 1.200 11.800 2.500 11.800 3.900 10.400 3.900V5H9.400L8.900 4.400 8.400 5.400H7.400V3.900H5.300V5.300Q5.300 6.500 4 6.500H1.700Q.5 6.500 .5 5.300V1.700Q.5 .5 1.700 .5Z" fill="#f3df2c" stroke="#a67c1a" stroke-width=".9"/><circle cx="2.700" cy="3.400" r=".95" fill="#8a5a10"/></svg></span><span class="c k pk b" style="left:22.75px">결제유형번호</span><span class="c l pk b" style="left:124.00px">pay_type_no</span><span class="c k" style="left:225.25px">일련번호</span><span class="c l dt" style="left:289.50px">INTEGER</span><span class="c l nn" style="left:389.50px">N<span style="font-weight:normal;padding:0 1.500px">·</span>N</span></div>
<div class="r e"><span class="ic" style="left:7px;top:5px"><svg width="10" height="10" viewBox="0 0 10 10"><circle cx="5" cy="5" r="3.500" fill="#a9d4a9" stroke="#5d9d5d" stroke-width=".9"/></svg></span><span class="c k" style="left:22.75px">결제유형명</span><span class="c l" style="left:124.00px">type_title</span><span class="c k" style="left:225.25px">이름</span><span class="c l dt" style="left:289.50px">VARCHAR(50)</span><span class="c l nn" style="left:389.50px">N<span style="font-weight:normal;padding:0 1.500px">·</span>N</span></div>
<div class="dl"></div></div>
<div class="t" style="left:685px;top:72px;width:519px;height:102px">
<div class="tt"><span class="n k">모금함첨부파일</span><span class="p l">ftp_funding_file</span></div>
<div class="th"><span class="c k" style="left:23.20px">논리 이름*</span><span class="c k" style="left:171.40px">물리 이름*</span><span class="c k" style="left:289.70px">도메인</span><span class="c k" style="left:354.60px">데이터 타입</span><span class="c k" style="left:462.00px">널 허용</span></div>
<div class="r o"><span class="ic" style="left:5.7px;top:6.5px"><svg width="13" height="7" viewBox="0 0 13 7"><path d="M1.700 .5H4Q5 .5 5.300 1.200H10.200Q11.800 1.200 11.800 2.500 11.800 3.900 10.400 3.900V5H9.400L8.900 4.400 8.400 5.400H7.400V3.900H5.300V5.300Q5.300 6.500 4 6.500H1.700Q.5 6.500 .5 5.300V1.700Q.5 .5 1.700 .5Z" fill="#f3df2c" stroke="#a67c1a" stroke-width=".9"/><circle cx="2.700" cy="3.400" r=".95" fill="#8a5a10"/></svg></span><span class="c k pk b" style="left:23.20px">모금함첨부파일번호</span><span class="c l pk b" style="left:171.40px">funding_file_no</span><span class="c k" style="left:289.70px">일련번호</span><span class="c l dt" style="left:354.60px">INTEGER</span><span class="c l nn" style="left:462.00px">N<span style="font-weight:normal;padding:0 1.500px">·</span>N</span></div>
<div class="r e"><span class="ic" style="left:7px;top:0px"><svg width="14" height="14" viewBox="0 0 14 14"><path d="M5.300 6.500A3.500 3.500 0 1 0 8.500 9.700L5.600 9.400Z" fill="#a9d4a9" stroke="#5d9d5d" stroke-width=".9"/><text x="7" y="10" font-family="Liberation Sans, sans-serif" font-weight="bold" font-size="10.400" fill="#2c18a8" stroke="#2c18a8" stroke-width=".45">F</text></svg></span><span class="c k fk b" style="left:23.20px">모금함번호</span><span class="c l fk b" style="left:171.40px">funding_no</span><span class="c k" style="left:289.70px">일련번호</span><span class="c l dt" style="left:354.60px">INTEGER</span><span class="c l nn" style="left:462.00px">N<span style="font-weight:normal;padding:0 1.500px">·</span>N</span></div>
<div class="r o"><span class="ic" style="left:7px;top:5px"><svg width="10" height="10" viewBox="0 0 10 10"><circle cx="5" cy="5" r="3.500" fill="#a9d4a9" stroke="#5d9d5d" stroke-width=".9"/></svg></span><span class="c k" style="left:23.20px">첨부파일명</span><span class="c l" style="left:171.40px">filepath</span><span class="c k" style="left:289.70px">웹주소</span><span class="c l dt" style="left:354.60px">VARCHAR(255)</span><span class="c l nl" style="left:462.00px">NULL</span></div>
<div class="dl"></div></div>
<div class="t" style="left:674px;top:279px;width:546px;height:282px">
<div class="tt"><span class="n k">모금함</span><span class="p l">ftp_funding</span></div>
<div class="th"><span class="c k" style="left:22.90px">논리 이름*</span><span class="c k" style="left:156.00px">물리 이름*</span><span class="c k" style="left:316.50px">도메인</span><span class="c k" style="left:381.80px">데이터 타입</span><span class="c k" style="left:488.70px">널 허용</span></div>
<div class="r o"><span class="ic" style="left:5.7px;top:6.5px"><svg width="13" height="7" viewBox="0 0 13 7"><path d="M1.700 .5H4Q5 .5 5.300 1.200H10.200Q11.800 1.200 11.800 2.500 11.800 3.900 10.400 3.900V5H9.400L8.900 4.400 8.400 5.400H7.400V3.900H5.300V5.300Q5.300 6.500 4 6.500H1.700Q.5 6.500 .5 5.300V1.700Q.5 .5 1.700 .5Z" fill="#f3df2c" stroke="#a67c1a" stroke-width=".9"/><circle cx="2.700" cy="3.400" r=".95" fill="#8a5a10"/></svg></span><span class="c k pk b" style="left:22.90px">모금함번호</span><span class="c l pk b" style="left:156.00px">funding_no</span><span class="c k" style="left:316.50px">일련번호</span><span class="c l dt" style="left:381.80px">INTEGER</span><span class="c l nn" style="left:488.70px">N<span style="font-weight:normal;padding:0 1.500px">·</span>N</span></div>
<div class="r e"><span class="ic" style="left:7px;top:0px"><svg width="14" height="14" viewBox="0 0 14 14"><path d="M5.300 6.500A3.500 3.500 0 1 0 8.500 9.700L5.600 9.400Z" fill="#a9d4a9" stroke="#5d9d5d" stroke-width=".9"/><text x="7" y="10" font-family="Liberation Sans, sans-serif" font-weight="bold" font-size="10.400" fill="#2c18a8" stroke="#2c18a8" stroke-width=".45">F</text></svg></span><span class="c k fk b" style="left:22.90px">모금카테고리번호</span><span class="c l fk b" style="left:156.00px">funding_category_no</span><span class="c k" style="left:316.50px">일련번호</span><span class="c l dt" style="left:381.80px">INTEGER</span><span class="c l nn" style="left:488.70px">N<span style="font-weight:normal;padding:0 1.500px">·</span>N</span></div>
<div class="r o"><span class="ic" style="left:7px;top:0px"><svg width="14" height="14" viewBox="0 0 14 14"><path d="M5.300 6.500A3.500 3.500 0 1 0 8.500 9.700L5.600 9.400Z" fill="#a9d4a9" stroke="#5d9d5d" stroke-width=".9"/><text x="7" y="10" font-family="Liberation Sans, sans-serif" font-weight="bold" font-size="10.400" fill="#2c18a8" stroke="#2c18a8" stroke-width=".45">F</text></svg></span><span class="c k fk b" style="left:22.90px">기관번호</span><span class="c l fk b" style="left:156.00px">user_org_no</span><span class="c k" style="left:316.50px">일련번호</span><span class="c l dt red" style="left:381.80px">INTEGER</span><span class="c l nn" style="left:488.70px">N<span style="font-weight:normal;padding:0 1.500px">·</span>N</span></div>
<div class="r e"><span class="ic" style="left:7px;top:5px"><svg width="10" height="10" viewBox="0 0 10 10"><circle cx="5" cy="5" r="3.500" fill="#a9d4a9" stroke="#5d9d5d" stroke-width=".9"/></svg></span><span class="c k" style="left:22.90px">제목</span><span class="c l" style="left:156.00px">title</span><span class="c k" style="left:316.50px">제목</span><span class="c l dt" style="left:381.80px">VARCHAR(255)</span><span class="c l nn" style="left:488.70px">N<span style="font-weight:normal;padding:0 1.500px">·</span>N</span></div>
<div class="r o"><span class="ic" style="left:7px;top:5px"><svg width="10" height="10" viewBox="0 0 10 10"><circle cx="5" cy="5" r="3.500" fill="#a9d4a9" stroke="#5d9d5d" stroke-width=".9"/></svg></span><span class="c k" style="left:22.90px">내용</span><span class="c l" style="left:156.00px">content</span><span class="c k" style="left:316.50px">내용</span><span class="c l dt" style="left:381.80px">TEXT</span><span class="c l nn" style="left:488.70px">N<span style="font-weight:normal;padding:0 1.500px">·</span>N</span></div>
<div class="r e"><span class="ic" style="left:7px;top:5px"><svg width="10" height="10" viewBox="0 0 10 10"><circle cx="5" cy="5" r="3.500" fill="#a9d4a9" stroke="#5d9d5d" stroke-width=".9"/></svg></span><span class="c k" style="left:22.90px">전화</span><span class="c l" style="left:156.00px">tel</span><span class="c k" style="left:316.50px">전화번호</span><span class="c l dt" style="left:381.80px">VARCHAR(30)</span><span class="c l nn" style="left:488.70px">N<span style="font-weight:normal;padding:0 1.500px">·</span>N</span></div>
<div class="r o"><span class="ic" style="left:7px;top:5px"><svg width="10" height="10" viewBox="0 0 10 10"><circle cx="5" cy="5" r="3.500" fill="#a9d4a9" stroke="#5d9d5d" stroke-width=".9"/></svg></span><span class="c k" style="left:22.90px">이메일</span><span class="c l" style="left:156.00px">email</span><span class="c k" style="left:316.50px">이메일</span><span class="c l dt" style="left:381.80px">VARCHAR(40)</span><span class="c l nn" style="left:488.70px">N<span style="font-weight:normal;padding:0 1.500px">·</span>N</span></div>
<div class="r e"><span class="ic" style="left:7px;top:5px"><svg width="10" height="10" viewBox="0 0 10 10"><circle cx="5" cy="5" r="3.500" fill="#a9d4a9" stroke="#5d9d5d" stroke-width=".9"/></svg></span><span class="c k" style="left:22.90px">시작일</span><span class="c l" style="left:156.00px">start_dt</span><span class="c k" style="left:316.50px">날짜</span><span class="c l dt" style="left:381.80px">DATE</span><span class="c l nn" style="left:488.70px">N<span style="font-weight:normal;padding:0 1.500px">·</span>N</span></div>
<div class="r o"><span class="ic" style="left:7px;top:5px"><svg width="10" height="10" viewBox="0 0 10 10"><circle cx="5" cy="5" r="3.500" fill="#a9d4a9" stroke="#5d9d5d" stroke-width=".9"/></svg></span><span class="c k" style="left:22.90px">종료일</span><span class="c l" style="left:156.00px">end_dt</span><span class="c k" style="left:316.50px">날짜</span><span class="c l dt" style="left:381.80px">DATE</span><span class="c l nn" style="left:488.70px">N<span style="font-weight:normal;padding:0 1.500px">·</span>N</span></div>
<div class="r e"><span class="ic" style="left:7px;top:5px"><svg width="10" height="10" viewBox="0 0 10 10"><circle cx="5" cy="5" r="3.500" fill="#a9d4a9" stroke="#5d9d5d" stroke-width=".9"/></svg></span><span class="c k" style="left:22.90px">목표금액</span><span class="c l" style="left:156.00px">goal</span><span class="c k" style="left:316.50px">금액</span><span class="c l dt" style="left:381.80px">BIGINT</span><span class="c l nn" style="left:488.70px">N<span style="font-weight:normal;padding:0 1.500px">·</span>N</span></div>
<div class="r o"><span class="ic" style="left:7px;top:5px"><svg width="10" height="10" viewBox="0 0 10 10"><circle cx="5" cy="5" r="3.500" fill="#a9d4a9" stroke="#5d9d5d" stroke-width=".9"/></svg></span><span class="c k" style="left:22.90px">승인여부</span><span class="c l" style="left:156.00px">status</span><span class="c k" style="left:316.50px">상태</span><span class="c l dt" style="left:381.80px">INTEGER</span><span class="c l nn" style="left:488.70px">N<span style="font-weight:normal;padding:0 1.500px">·</span>N</span></div>
<div class="r e"><span class="ic" style="left:7px;top:5px"><svg width="10" height="10" viewBox="0 0 10 10"><circle cx="5" cy="5" r="3.500" fill="#a9d4a9" stroke="#5d9d5d" stroke-width=".9"/></svg></span><span class="c k" style="left:22.90px">비고</span><span class="c l" style="left:156.00px">note</span><span class="c k" style="left:316.50px">내용</span><span class="c l dt" style="left:381.80px">TEXT</span><span class="c l nl" style="left:488.70px">NULL</span></div>
<div class="dl"></div></div>
<div class="t sq" style="left:1303px;top:389px;width:546px;height:82px">
<div class="tt"><span class="n k">모금카테고리</span><span class="p l">ftp_donation_category</span></div>
<div class="th"><span class="c k" style="left:22.80px">논리 이름*</span><span class="c k" style="left:155.90px">물리 이름*</span><span class="c k" style="left:317.00px">도메인</span><span class="c k" style="left:381.70px">데이터 타입</span><span class="c k" style="left:488.60px">널 허용</span></div>
<div class="r o"><span class="ic" style="left:5.7px;top:6.5px"><svg width="13" height="7" viewBox="0 0 13 7"><path d="M1.700 .5H4Q5 .5 5.300 1.200H10.200Q11.800 1.200 11.800 2.500 11.800 3.900 10.400 3.900V5H9.400L8.900 4.400 8.400 5.400H7.400V3.900H5.300V5.300Q5.300 6.500 4 6.500H1.700Q.5 6.500 .5 5.300V1.700Q.5 .5 1.700 .5Z" fill="#f3df2c" stroke="#a67c1a" stroke-width=".9"/><circle cx="2.700" cy="3.400" r=".95" fill="#8a5a10"/></svg></span><span class="c k pk b" style="left:22.80px">모금카테고리번호</span><span class="c l pk b" style="left:155.90px">funding_category_no</span><span class="c k" style="left:317.00px">일련번호</span><span class="c l dt" style="left:381.70px">INTEGER</span><span class="c l nn" style="left:488.60px">N<span style="font-weight:normal;padding:0 1.500px">·</span>N</span></div>
<div class="r e"><span class="ic" style="left:7px;top:5px"><svg width="10" height="10" viewBox="0 0 10 10"><circle cx="5" cy="5" r="3.500" fill="#a9d4a9" stroke="#5d9d5d" stroke-width=".9"/></svg></span><span class="c k" style="left:22.80px">카테고리명</span><span class="c l" style="left:155.90px">category_title</span><span class="c k" style="left:317.00px">제목</span><span class="c l dt" style="left:381.70px">VARCHAR(255)</span><span class="c l nn" style="left:488.60px">N<span style="font-weight:normal;padding:0 1.500px">·</span>N</span></div>
<div class="dl"></div></div>
</body></html>
